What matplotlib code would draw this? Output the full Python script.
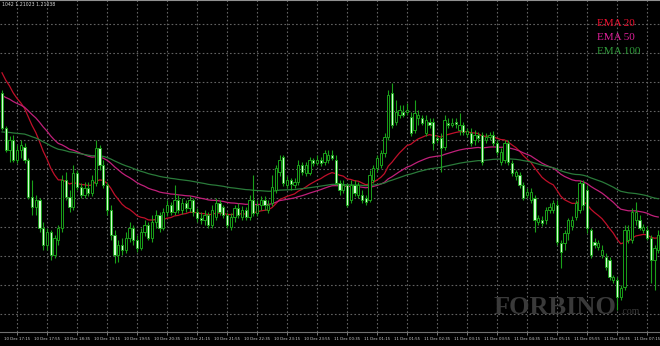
import matplotlib
matplotlib.use("Agg")
import matplotlib.pyplot as plt
import numpy as np

# EURUSD M5, prices stored in points (0.00001) above base
base = 1.20958

opens = [207, 172, 150, 160, 140, 150, 153, 140, 103, 93,
         100, 72, 55, 68, 45, 60, 72, 120, 103, 93,
         127, 113, 105, 112, 107, 117, 152, 135, 115, 90,
         65, 45, 55, 50, 62, 72, 60, 52, 68, 75,
         62, 78, 85, 72, 88, 95, 88, 100, 90, 97,
         92, 100, 88, 82, 80, 85, 75, 83, 97, 93,
         85, 73, 83, 92, 83, 90, 83, 100, 87, 95,
         100, 90, 97, 110, 128, 143, 115, 120, 115, 118,
         135, 127, 127, 140, 137, 140, 138, 140, 145, 140,
         117, 110, 115, 100, 115, 105, 105, 102, 100, 120,
         132, 135, 147, 163, 207, 178, 185, 188, 188, 183,
         170, 182, 182, 167, 178, 178, 162, 162, 153, 177,
         175, 178, 170, 175, 166, 167, 160, 165, 165, 160,
         163, 165, 157, 138, 140, 157, 137, 124, 125, 115,
         105, 100, 102, 78, 80, 80, 90, 90, 95, 57,
         57, 67, 74, 83, 90, 117, 110, 70, 58, 53,
         45, 43, 40, 20, 20, 3, 13, 60, 60, 80,
         80, 70, 70, 62, 40, 50]
highs = [210, 174, 164, 165, 155, 160, 157, 142, 120, 105,
         102, 78, 72, 70, 65, 75, 125, 128, 110, 135,
         130, 117, 118, 118, 125, 160, 155, 140, 118, 95,
         70, 60, 62, 68, 78, 75, 65, 72, 80, 78,
         85, 90, 88, 92, 100, 98, 115, 105, 102, 100,
         104, 102, 92, 88, 90, 88, 95, 102, 100, 95,
         88, 87, 95, 97, 94, 93, 105, 125, 100, 104,
         104, 100, 125, 135, 145, 145, 124, 122, 122, 140,
         138, 138, 143, 142, 145, 143, 150, 150, 150, 145,
         120, 120, 117, 120, 120, 118, 110, 105, 130, 135,
         145, 150, 167, 210, 217, 200, 195, 195, 197, 188,
         200, 190, 185, 185, 182, 182, 165, 167, 185, 182,
         182, 182, 187, 178, 172, 172, 170, 168, 168, 167,
         168, 169, 160, 152, 160, 160, 140, 130, 128, 118,
         112, 112, 105, 85, 84, 93, 97, 100, 100, 60,
         70, 82, 84, 100, 120, 120, 115, 72, 62, 60,
         55, 47, 43, 25, 23, 15, 75, 75, 92, 98,
         85, 76, 74, 65, 55, 70]
lows = [170, 148, 138, 138, 137, 142, 137, 101, 85, 85,
        68, 50, 50, 40, 42, 55, 68, 100, 88, 90,
        110, 102, 102, 104, 104, 114, 130, 112, 85, 60,
        37, 38, 45, 47, 58, 55, 48, 50, 64, 60,
        58, 72, 68, 70, 84, 85, 85, 87, 86, 88,
        88, 84, 78, 76, 75, 72, 72, 80, 85, 82,
        72, 70, 78, 82, 80, 80, 80, 84, 84, 90,
        90, 87, 94, 107, 124, 114, 112, 110, 112, 115,
        125, 124, 125, 134, 135, 134, 135, 137, 140, 115,
        105, 107, 93, 97, 104, 102, 97, 95, 98, 117,
        128, 132, 143, 160, 172, 175, 182, 183, 185, 164,
        167, 175, 175, 164, 172, 150, 157, 128, 150, 172,
        173, 172, 165, 165, 163, 154, 155, 158, 135, 157,
        160, 154, 145, 135, 137, 135, 124, 120, 112, 100,
        102, 97, 68, 75, 74, 76, 87, 87, 55, 32,
        50, 60, 70, 80, 87, 90, 67, 42, 52, 50,
        42, 30, 20, 17, -10, 0, 10, 57, 57, 75,
        70, 67, 60, 17, 10, 47]
closes = [172, 150, 160, 140, 150, 155, 140, 103, 93, 100,
          72, 55, 68, 45, 62, 72, 120, 103, 93, 127,
          113, 105, 112, 107, 120, 152, 135, 115, 90, 65,
          45, 55, 50, 62, 72, 60, 52, 68, 75, 62,
          78, 85, 72, 88, 95, 88, 100, 90, 97, 92,
          100, 88, 82, 80, 85, 75, 90, 97, 88, 85,
          75, 83, 92, 85, 90, 83, 100, 87, 95, 100,
          95, 95, 113, 132, 140, 117, 120, 116, 118, 135,
          128, 135, 140, 137, 140, 137, 147, 145, 142, 117,
          110, 115, 95, 115, 107, 115, 100, 98, 125, 132,
          142, 147, 163, 205, 175, 188, 190, 185, 190, 167,
          187, 185, 177, 180, 175, 157, 160, 152, 180, 175,
          177, 176, 175, 168, 169, 157, 165, 162, 138, 163,
          165, 157, 148, 148, 157, 138, 127, 128, 115, 102,
          108, 108, 80, 82, 77, 90, 93, 97, 58, 48,
          67, 80, 80, 97, 117, 95, 72, 45, 55, 57,
          50, 33, 23, 23, 3, 12, 70, 70, 88, 88,
          72, 73, 62, 40, 52, 65]

ema_periods = [20, 50, 100]
ema_seeds = [233, 206, 168]  # EMA values just before the first visible bar
ema_names = ['EMA 20', 'EMA 50', 'EMA 100']

time_labels = ['10 Dec 17:15', '10 Dec 17:55', '10 Dec 18:35', '10 Dec 19:15',
               '10 Dec 19:55', '10 Dec 20:35', '10 Dec 21:15', '10 Dec 21:55',
               '10 Dec 22:35', '10 Dec 23:15', '10 Dec 23:55', '11 Dec 00:35',
               '11 Dec 01:15', '11 Dec 01:55', '11 Dec 02:35', '11 Dec 03:15',
               '11 Dec 03:55', '11 Dec 04:35', '11 Dec 05:15', '11 Dec 05:55',
               '11 Dec 06:35', '11 Dec 07:15']


def ema(values, period, seed):
    k = 2.0 / (period + 1)
    out = []
    e = seed
    for v in values:
        e = e + k * (v - e)
        out.append(e)
    return np.array(out)


def to_price(pts):
    return base + np.asarray(pts, dtype=float) * 1e-5


o = to_price(opens)
h = to_price(highs)
l = to_price(lows)
c = to_price(closes)
x = np.arange(len(closes))

wick_col = '#1aa01a'
bear_fill = '#d4ffd4'
line_cols = ['#c0102a', '#c0207a', '#2a7a3a']
text_cols = ['#f01030', '#e0209a', '#2f9a3a']

fig = plt.figure(figsize=(6.6, 3.46), dpi=100, facecolor='black')
ax = fig.add_axes([0, 14 / 346, 1, 332 / 346])
ax.set_facecolor('black')

# grid
ax.set_xticks(np.arange(4, len(closes), 8))
ax.set_xticklabels(time_labels[:len(ax.get_xticks())])
ax.set_yticks(to_price(np.arange(276, -40, -29)))
ax.grid(True, color='#626262', linestyle=(0, (1.5, 2)), linewidth=0.8)
ax.set_axisbelow(True)
ax.tick_params(axis='x', colors='#8a8a8a', labelcolor='#d0d0d0', labelsize=2.8,
               length=2, pad=1.5, width=0.6)
ax.tick_params(axis='y', left=False, labelleft=False)
for s in ['left', 'right']:
    ax.spines[s].set_visible(False)
ax.spines['top'].set_color('#909090')
ax.spines['bottom'].set_color('#707070')

# EMAs
for p, sd, col in zip(ema_periods, ema_seeds, line_cols):
    ax.plot(x, to_price(ema(closes, p, sd)), color=col, linewidth=0.9, zorder=2)

# candles
ax.vlines(x, l, h, color=wick_col, linewidth=0.8, zorder=3)
bottoms = np.minimum(o, c)
heights = np.maximum(np.abs(c - o), 0.4e-5)
fills = [bear_fill if cc < oo else 'black' for oo, cc in zip(o, c)]
ax.bar(x, heights, bottom=bottoms, width=0.62, color=fills, edgecolor=wick_col,
       linewidth=0.7, zorder=4)

ax.set_xlim(-2 / 3.75, len(closes) - 2 / 3.75)
ax.set_ylim(to_price(-32), to_price(300))

# labels
for i, (name, col) in enumerate(zip(ema_names, text_cols)):
    fig.text(597 / 660, 1 - (23 + i * 14.5) / 346, name, color=col, fontsize=8,
             family='Liberation Serif', va='center', ha='left')
fig.text(2 / 660, 1 - 5 / 346, '1042 1.21023 1.21038', color='#d8d8d8',
         fontsize=3.3, va='center', ha='left')
fig.text(494 / 660, 1 - 307 / 346, 'FORBINO', color='#3a3a3a', fontsize=19,
         family='Liberation Serif', weight='bold', va='center', ha='left', zorder=1)
fig.text(620 / 660, 1 - 311 / 346, '.com', color='#3a3a3a', fontsize=7,
         family='Liberation Serif', va='center', ha='left', zorder=1)

fig.savefig('out.png', dpi=100, facecolor='black')
